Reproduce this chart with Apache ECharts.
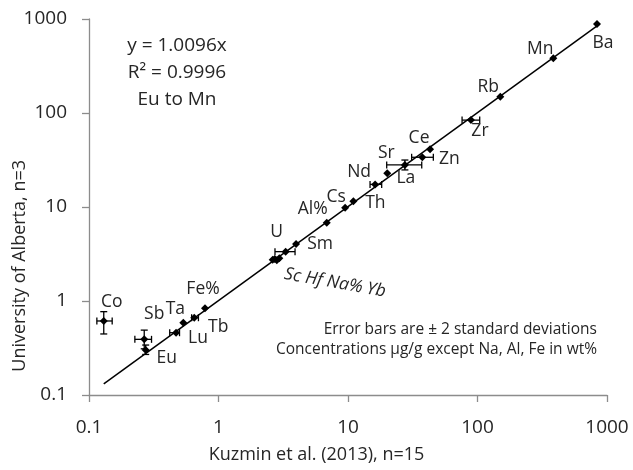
<!DOCTYPE html>
<html><head><meta charset="utf-8">
<script src="https://cdn.jsdelivr.net/npm/echarts@6/dist/echarts.min.js"></script>
<style>html,body{margin:0;padding:0;background:#fff}#c{width:633px;height:470px}</style>
</head><body><div id="c"></div>
<script>
// ---- data ----
var elements = ['Co','Sb','Eu','Lu','Ta','Tb','Fe%','Sc','Hf','Na%','Yb','U','Sm','Al%','Cs','Th','Nd','Sr','La','Zn','Ce','Zr','Rb','Mn','Ba'];
var kuzmin   = [0.130,0.267,0.274,0.47,0.535,0.65,0.787,2.62,2.72,2.82,2.95,3.30,3.97,6.85,9.5,11.0,16.2,20.1,27.5,37.5,43,89,150,385,837];
var alberta  = [0.613,0.391,0.301,0.46,0.588,0.664,0.836,2.75,2.80,2.72,2.85,3.35,4.04,6.8,9.8,11.5,17.4,22.8,28.0,33.8,41.1,84,149,382,885];
var xErrLow  = [0.115,0.226,null,0.42,null,0.62,null,null,null,null,null,2.73,null,null,null,null,14.8,null,19.9,31.0,null,76,null,null,null];
var xErrHigh = [0.151,0.304,null,0.50,null,0.70,null,null,null,null,null,3.90,null,null,null,null,18.2,null,37.1,45.6,null,104,null,null,null];
var yErrLow  = [0.446,0.31,0.27,null,null,null,null,null,null,null,null,null,null,null,null,null,null,null,24.8,null,null,null,null,null,null];
var yErrHigh = [0.77,0.49,0.34,null,null,null,null,null,null,null,null,null,null,null,null,null,null,null,31.6,null,null,null,null,null,null];
var fitSlope = 1.0096;
var fitRange = [0.13, 870];
var xTicks = [0.1, 1, 10, 100, 1000];
var yTicks = [0.1, 1, 10, 100, 1000];
var fitText = ['y = 1.0096x', 'R² = 0.9996', 'Eu to Mn'];
var noteText = ['Error bars are ± 2 standard deviations', 'Concentrations µg/g except Na, Al, Fe in wt%'];
var xTitle = 'Kuzmin et al. (2013), n=15';
var yTitle = 'University of Alberta, n=3';

// ---- label placement (style only) ----
var labelOffsets = {
  'Co':[8,-19],'Sb':[10,-25],'Eu':[21,8],'Lu':[22,5],'Ta':[-8,-14],'Tb':[24,9],'Fe%':[-2,-19],
  'U':[-9,-20],'Sm':[24,0],'Al%':[-14,-14],'Cs':[-9,-11],'Th':[22,2],'Nd':[-16,-12],'Sr':[-1,-20],
  'La':[1,13],'Zn':[27,2],'Ce':[-11,-11],'Zr':[9,11],'Rb':[-12,-10],'Mn':[-13,-9],'Ba':[6,19]
};
var clusterLabel = 'Sc Hf Na% Yb';
var FONT = '"Open Sans", "Noto Sans", sans-serif';
var TXT = '#262626';

var pts = elements.map(function(n,i){
  var off = labelOffsets[n];
  var d = {name:n, value:[kuzmin[i], alberta[i]]};
  var base = {color:TXT, fontSize:17.5, fontFamily:FONT, opacity:1, textBorderWidth:0};
  if (n === 'Sc') {
    d.label = Object.assign(base, {show:true, formatter:clusterLabel, fontStyle:'italic', position:['50%','50%'], align:'left',
               verticalAlign:'middle', offset:[14,12], rotate:-10});
  } else if (off) {
    d.label = Object.assign(base, {show:true, formatter:'{b}', position:['50%','50%'], align:'center', verticalAlign:'middle', offset:off});
  } else {
    d.label = {show:false};
  }
  return d;
});

var errData = elements.map(function(n,i){
  return [kuzmin[i], alberta[i], xErrLow[i], xErrHigh[i], yErrLow[i], yErrHigh[i]];
}).filter(function(r){ return r[2]!=null || r[4]!=null; });

function renderErr(params, api){
  var x = api.value(0), y = api.value(1);
  var xl = api.value(2), xh = api.value(3), yl = api.value(4), yh = api.value(5);
  var ch = [];
  var st = {stroke:'#000', lineWidth:1.3};
  var cap = 3.5;
  if (xl && xh && !isNaN(xl)) {
    var a = api.coord([xl,y]), b = api.coord([xh,y]);
    ch.push({type:'line', shape:{x1:a[0],y1:a[1],x2:b[0],y2:b[1]}, style:st});
    ch.push({type:'line', shape:{x1:a[0],y1:a[1]-cap,x2:a[0],y2:a[1]+cap}, style:st});
    ch.push({type:'line', shape:{x1:b[0],y1:b[1]-cap,x2:b[0],y2:b[1]+cap}, style:st});
  }
  if (yl && yh && !isNaN(yl)) {
    var c = api.coord([x,yl]), d = api.coord([x,yh]);
    ch.push({type:'line', shape:{x1:c[0],y1:c[1],x2:d[0],y2:d[1]}, style:st});
    ch.push({type:'line', shape:{x1:c[0]-cap,y1:c[1],x2:c[0]+cap,y2:c[1]}, style:st});
    ch.push({type:'line', shape:{x1:d[0]-cap,y1:d[1],x2:d[0]+cap,y2:d[1]}, style:st});
  }
  return {type:'group', children:ch};
}

var chart = echarts.init(document.getElementById('c'), null, {renderer:'canvas'});
var axisCommon = {
  type:'log', logBase:10, min:0.1, max:1000,
  axisLine:{show:true, lineStyle:{color:'#8c8c8c', width:1.3}},
  axisTick:{show:true, length:7, lineStyle:{color:'#8c8c8c', width:1.3}},
  splitLine:{show:false}, minorTick:{show:false},
  axisLabel:{color:TXT, fontSize:19, fontFamily:FONT, formatter:function(v){return String(+(+v).toPrecision(3));}}
};
chart.setOption({
  animation:false,
  grid:{left:89, right:26, top:19, bottom:75, containLabel:false},
  xAxis: Object.assign({}, axisCommon, {axisLabel:Object.assign({}, axisCommon.axisLabel, {margin:23})}),
  yAxis: Object.assign({}, axisCommon, {axisLabel:Object.assign({}, axisCommon.axisLabel, {margin:22})}),
  series:[
    {type:'line', data:fitRange.map(function(x){return [x, x*fitSlope];}), showSymbol:false, symbol:'none',
     lineStyle:{color:'#000', width:1.5}, silent:true, z:1},
    {type:'custom', renderItem:renderErr, data:errData, z:2, silent:true},
    {type:'scatter', data:pts, symbol:'diamond', symbolSize:8, itemStyle:{color:'#000', opacity:1}, z:3,
     emphasis:{disabled:true},
     label:{color:TXT, fontSize:17.5, fontFamily:FONT}}
  ],
  graphic:[
    {type:'text', left:177-70, top:32, style:{text:fitText.join('\n'), fill:TXT, font:'19px '+FONT, textAlign:'center', lineHeight:27, width:140}},
    {type:'text', right:36, top:320, style:{text:noteText.join('\n'), fill:TXT, font:'15.5px '+FONT, textAlign:'right', lineHeight:19.5}},
    {type:'text', left:'center', top:446, style:{text:xTitle, fill:TXT, font:'18px '+FONT}},
    {type:'text', left:11, top:160, rotation:Math.PI/2, style:{text:yTitle, fill:TXT, font:'18px '+FONT}}
  ]
});
</script></body></html>
